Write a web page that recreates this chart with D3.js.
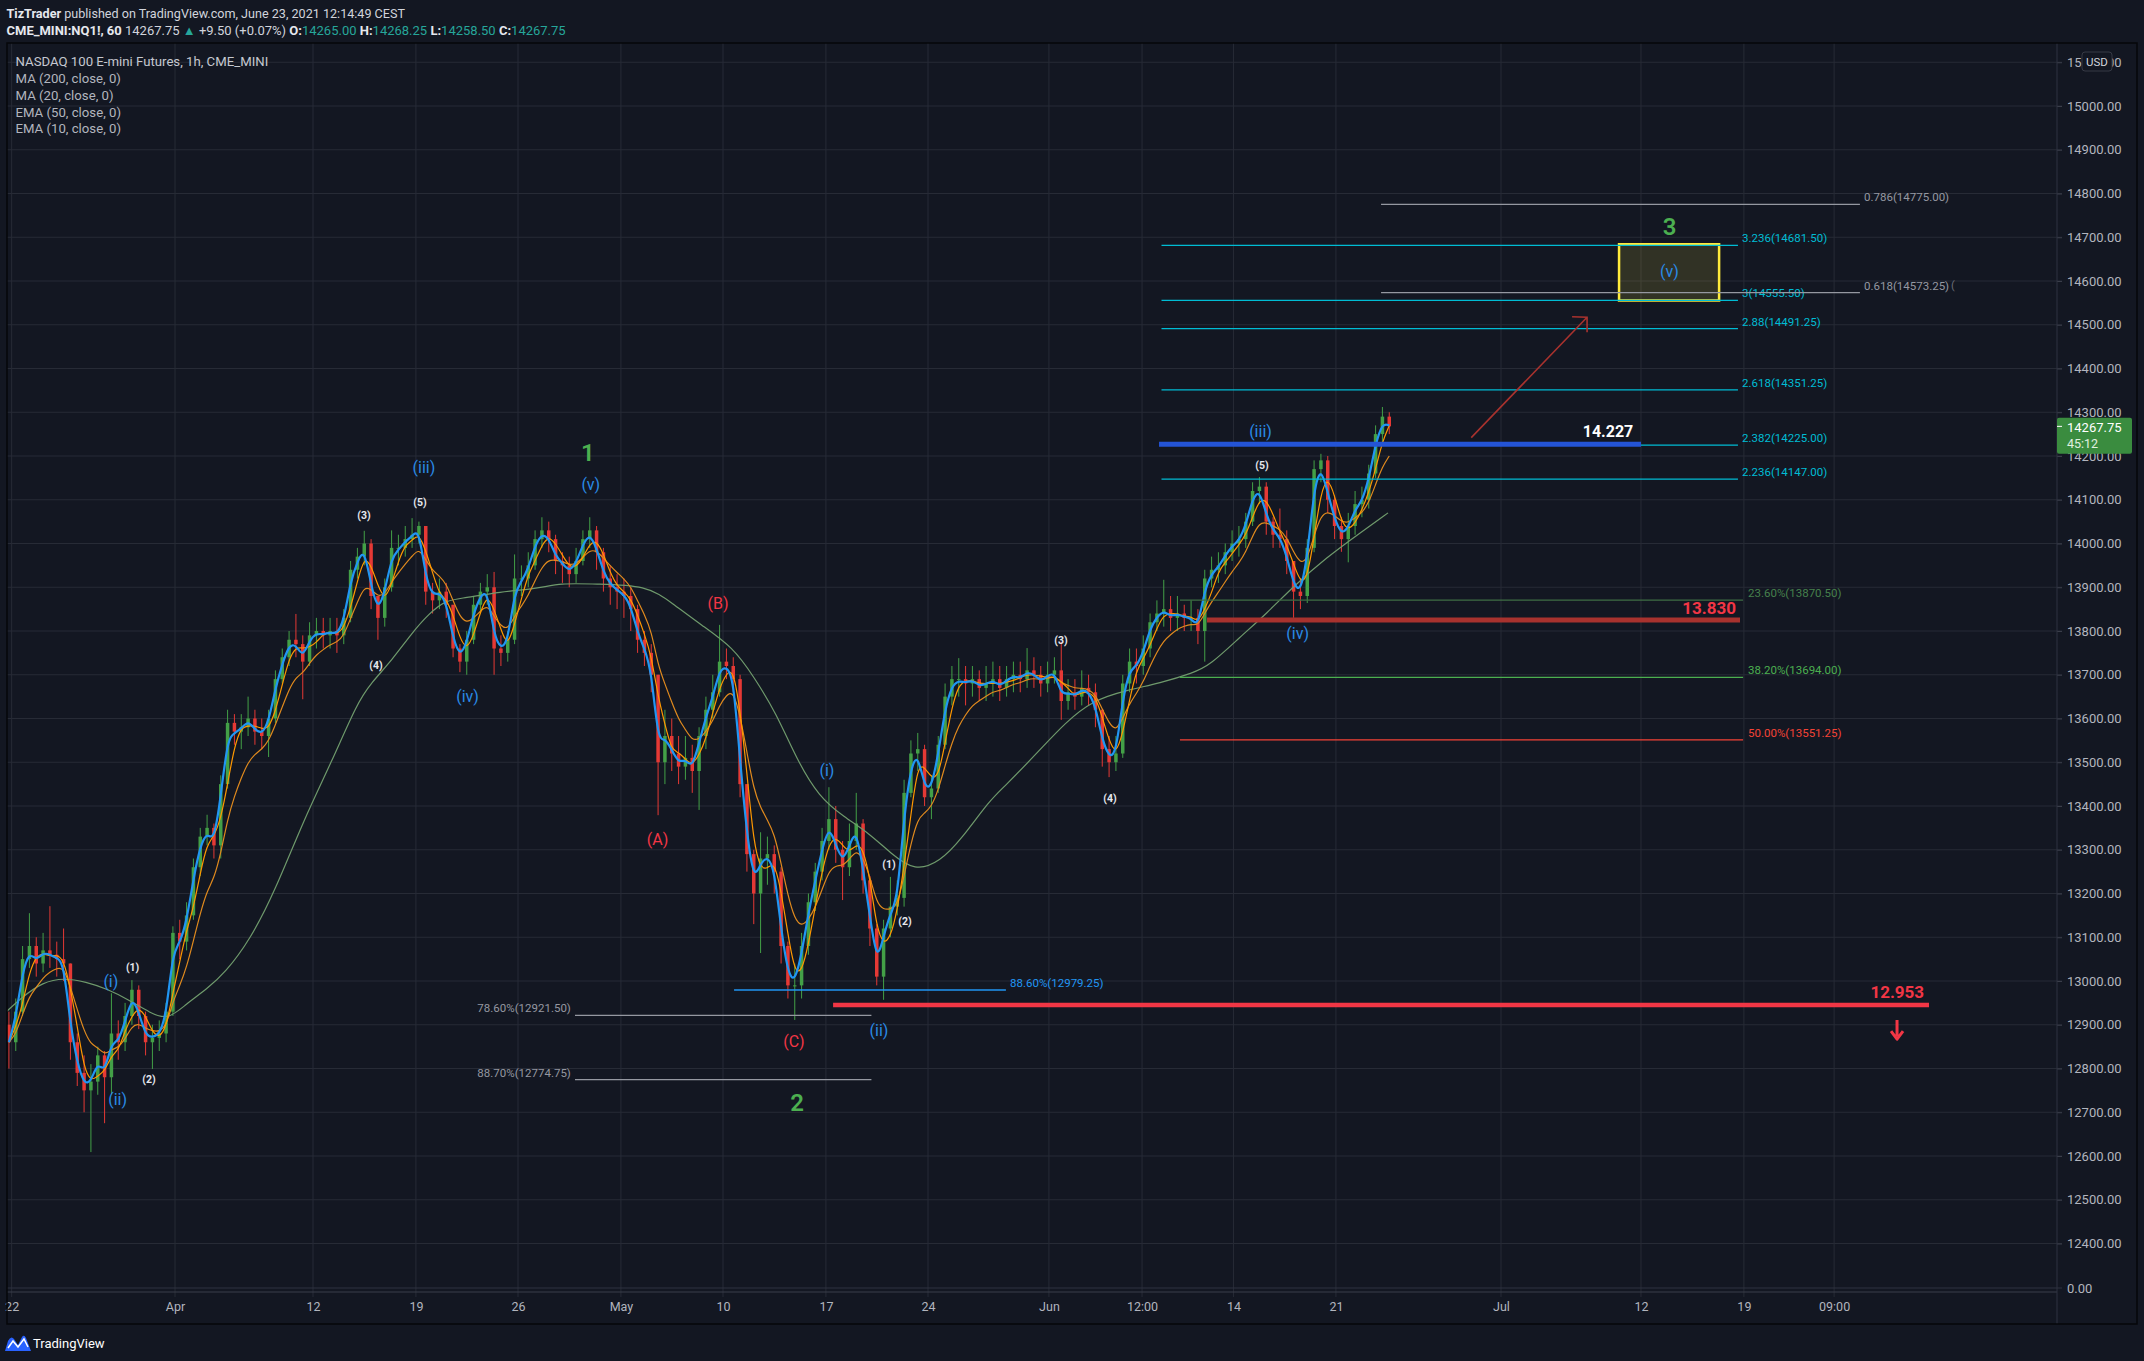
<!DOCTYPE html>
<html><head><meta charset="utf-8">
<script src="https://cdn.jsdelivr.net/npm/d3@7"></script>
<style>html,body{margin:0;padding:0;background:#131722;}svg{display:block;font-family:Roboto,"Noto Sans",sans-serif;}</style>
</head><body>
<svg id="c" width="2144" height="1361"></svg>
<script>
// ---------------- DATA ----------------
// one bar = 1/3 trading day, bar k centred on day (k+0.5)/3, day 0 = 22 Mar 2021
const firstOpen = 12900;
const closes = [12860,12930,13050,13080,13040,13070,13060,13050,13040,12860,
12790,12750,12770,12830,12780,12880,12860,12920,12980,12920,
12860,12870,12880,12930,13110,13090,13150,13260,13330,13350,
13310,13450,13590,13570,13580,13600,13570,13560,13600,13690,
13740,13780,13770,13730,13790,13800,13790,13800,13790,13830,
13940,13970,14000,13880,13830,13900,13990,13990,14010,14020,
14040,13890,13870,13890,13860,13760,13730,13780,13860,13890,
13900,13760,13750,13780,13920,13920,13950,14010,14030,14010,
13960,13950,13930,13960,14010,14030,13980,13920,13900,13890,
13880,13850,13780,13750,13700,13500,13560,13520,13490,13510,
13480,13560,13620,13660,13730,13720,13690,13450,13290,13200,
13280,13290,13250,13080,12990,12990,13080,13180,13250,13320,
13370,13300,13260,13320,13360,13230,13120,13010,13120,13170,
13190,13430,13520,13530,13420,13440,13540,13650,13690,13690,
13680,13690,13670,13680,13690,13670,13690,13700,13690,13710,
13700,13680,13700,13710,13640,13660,13650,13670,13660,13620,
13530,13500,13520,13680,13730,13720,13760,13820,13840,13850,
13830,13840,13830,13830,13800,13920,13940,13950,13980,14000,
14010,14050,14120,14130,14050,14020,14010,13960,13890,13880,
13990,14170,14190,14100,14040,14010,14040,14090,14100,14160,
14250,14290,14267.75];
const highs = [12930,12960,13080,13155,13100,13110,13171,13090,13120,13040,
12880,12830,12810,12850,12840,12972,12910,12950,13002,12990,
12930,12900,12910,12950,13125,13140,13180,13280,13350,13380,
13360,13470,13620,13610,13610,13650,13620,13600,13620,13710,
13760,13800,13839,13790,13820,13830,13830,13830,13830,13850,
13960,13990,14029,14010,13880,13920,14030,14020,14040,14058,
14050,14040,13910,13920,13910,13860,13770,13800,13880,13910,
13930,13935,13790,13800,13975,13950,13980,14030,14060,14050,
14020,13980,13970,13990,14030,14060,14040,13990,13950,13930,
13920,13900,13860,13800,13770,13700,13620,13600,13560,13560,
13540,13580,13650,13700,13814,13760,13740,13700,13450,13300,
13340,13330,13310,13260,13090,13040,13110,13200,13270,13350,
13443,13400,13320,13360,13430,13370,13240,13130,13140,13238,
13230,13460,13550,13567,13540,13470,13560,13680,13720,13738,
13720,13720,13710,13720,13730,13720,13720,13730,13730,13761,
13740,13720,13730,13740,13775,13690,13690,13710,13700,13680,
13620,13560,13560,13700,13760,13760,13790,13840,13870,13917,
13880,13880,13860,13870,13850,13940,13970,13980,14000,14030,
14040,14070,14140,14152,14140,14060,14080,14030,13960,13920,
14010,14190,14205,14200,14110,14060,14070,14120,14130,14180,
14270,14312,14300];
const lows = [12800,12840,12920,13030,13010,13020,13030,13010,13000,12820,
12760,12700,12609,12740,12675,12740,12820,12840,12900,12890,
12830,12799,12840,12860,12920,13050,13070,13140,13240,13310,
13280,13280,13440,13540,13530,13560,13540,13530,13512,13590,
13680,13720,13740,13644,13720,13760,13760,13760,13750,13770,
13820,13920,13950,13850,13780,13810,13890,13950,13970,13990,
14000,13860,13840,13850,13830,13740,13706,13700,13770,13840,
13860,13700,13720,13730,13770,13880,13900,13940,13990,13980,
13930,13910,13900,13910,13950,13990,13940,13890,13860,13850,
13830,13800,13750,13720,13660,13379,13450,13480,13450,13460,
13430,13391,13530,13600,13650,13690,13660,13420,13250,13130,
13064,13220,13200,13040,12960,12911,12960,13060,13160,13230,
13300,13270,13185,13240,13300,13200,13080,12990,12957,13100,
13150,13170,13420,13480,13400,13370,13430,13530,13630,13650,
13630,13650,13640,13640,13650,13640,13650,13660,13660,13670,
13670,13650,13660,13680,13597,13620,13620,13630,13630,13580,
13490,13466,13480,13510,13660,13680,13700,13740,13800,13810,
13800,13800,13800,13800,13770,13730,13900,13910,13930,13960,
13970,13990,14040,14090,14020,13990,13990,13930,13830,13850,
13864,13980,14140,14070,14010,13981,13957,14020,14060,14080,
14150,14230,14250];
// MA(200): trading day, value
const ma200Days = [0.07,0.76,1.83,2.85,3.93,4.95,6.02,7.05,7.93,8.8,9.83,10.7,11.93,13.15,14.56,15.93,17.15,17.83,18.9,19.78,20.66,21.49,22.37,24.12,25.88,27.1,28.71,31.29,32.51,33.93,35.49,36.51,37.59,38.61,39.68,40.9,42.12,43.15,44.37,45.59,46.61,48.02,48.71,50.46,51.68,53.05,54.71,56.32,57.93,58.76,60.22,61.54,62.8,64.46,66.07,67.44];
const ma200Vals = [12931,12961,12998,13007,12998,12982,12957,12927,12911,12947,12982,13018,13094,13206,13370,13503,13635,13681,13736,13793,13840,13871,13875,13890,13896,13910,13907,13905,13864,13814,13763,13695,13613,13505,13421,13375,13338,13293,13250,13273,13323,13414,13443,13528,13590,13642,13665,13681,13704,13722,13786,13841,13901,13969,14024,14070];
// axes
const priceTicks = d3.range(12400, 15101, 100);
const timeLabels = ["22","Apr","12","19","26","May","10","17","24","Jun","12:00","14","21","Jul","12","19","09:00"];
const timeDays = [0.3,8.27,15,20.02,25,30.02,35,40.02,45,50.9,55.44,59.9,64.9,72.95,79.78,84.8,89.2];
const lastPrice = 14267.75;
// fibonacci levels
const extLabels = ["3.236","3","2.88","2.618","2.382","2.236"];
const extPrices = [14681.5,14555.5,14491.25,14351.25,14225,14147];
const extSpan = [56.39,84.51];
const grayLabels = ["0.786","0.618"];
const grayPrices = [14775,14573.25];
const graySpan = [67.1,90.46];
const retLabels = ["23.60%","38.20%","50.00%"];
const retPrices = [13870.5,13694,13551.25];
const retSpan = [57.29,84.76];
const lowLabels = ["88.60%","78.60%","88.70%"];
const lowPrices = [12979.25,12921.5,12774.75];
const lowSpans = [[35.54,48.8],[27.78,42.24],[27.78,42.24]];
// key levels (label value, drawn price, day span)
const keyLabels = ["14.227","13.830","12.953"];
const keyPrices = [14227,13825,12945];
const keySpans = [[56.27,79.78],[58.61,84.61],[40.37,93.83]];
const keyLabelDays = [78.17,84.41,93.59];
// wave labels: text, day, price, group
const waveText = ["(iii)","(3)","(5)","(4)","(iv)","1","(v)","(B)","(A)","(i)","(1)","(2)","(C)","(ii)","2","(i)","(1)","(ii)","(2)","(3)","(4)","(iii)","(5)","(iv)","3","(v)"];
const waveDay = [20.41,17.49,20.22,18.07,22.54,28.41,28.55,34.76,31.81,40.07,43.1,43.88,38.46,42.61,38.61,5.14,6.2,5.47,7.0,51.49,53.88,61.22,61.29,63.03,81.17,81.17];
const wavePrice = [14173,14065,14093,13722,13651,14207,14134,13862,13323,13482,13267,13136,12861,12886,12721,12998,13030,12730,12776,13779,13417,14257,14179,13795,14723,14621];
const waveGroup = ["minor","sub","sub","sub","minor","major","minor","abc","abc","minor","sub","sub","abc","minor","major","minor","sub","minor","sub","sub","sub","minor","sub","minor","major","minor"];
const targetBox = {days:[78.71,83.59], prices:[14555.5,14684]};
const upArrow = {from:[71.5,14242], to:[77.15,14517]};
const downArrow = {day:92.27, prices:[12911,12867]};

// ---------------- DRAW ----------------
const W = 2144, H = 1361;
const L = 7, R = 2057, T = 43, B = 1297, PB = 1283;
const svg = d3.select("#c");
svg.append("rect").attr("width",W).attr("height",H).attr("fill","#131722");

const x = d3.scaleLinear().domain([0,100]).range([5.5,2055.5]);
const y = d3.scaleLinear().domain([12400,15100]).range([1243.5,62.25]);

svg.append("defs").append("clipPath").attr("id","pane")
  .append("rect").attr("x",L).attr("y",T).attr("width",R-L).attr("height",PB-T);

// grid
const grid = svg.append("g");
grid.selectAll("line.h").data(priceTicks).join("line")
  .attr("x1",L).attr("x2",R+5).attr("y1",d=>y(d)).attr("y2",d=>y(d))
  .attr("stroke","#272b36").attr("stroke-width",1);
grid.selectAll("line.v").data(timeDays).join("line")
  .attr("x1",d=>x(d)).attr("x2",d=>x(d)).attr("y1",T).attr("y2",B)
  .attr("stroke","#272b36").attr("stroke-width",1);
// bottom mini pane lines
grid.append("line").attr("x1",L).attr("x2",R+5).attr("y1",1288).attr("y2",1288).attr("stroke","#2f3340");
grid.append("line").attr("x1",L).attr("x2",R).attr("y1",1292).attr("y2",1292).attr("stroke","#3a3e4a");

const plot = svg.append("g").attr("clip-path","url(#pane)");

// candles
const bars = closes.map((c,k)=>{
  const o = k===0 ? firstOpen : closes[k-1];
  return {day:(k+0.5)/3, o, c, h:Math.max(highs[k],o,c), l:Math.min(lows[k],o,c)};
});
const up="#43a047", dn="#e53935";
const cg = plot.append("g");
cg.selectAll("line").data(bars).join("line")
  .attr("x1",d=>x(d.day)).attr("x2",d=>x(d.day)).attr("y1",d=>y(d.h)).attr("y2",d=>y(d.l))
  .attr("stroke",d=>d.c>=d.o?up:dn).attr("stroke-width",1);
cg.selectAll("rect").data(bars).join("rect")
  .attr("x",d=>x(d.day)-1.75).attr("width",3.5)
  .attr("y",d=>y(Math.max(d.o,d.c)))
  .attr("height",d=>Math.max(1,Math.abs(y(d.o)-y(d.c))))
  .attr("fill",d=>d.c>=d.o?up:dn);

// moving averages derived from the bars (hourly periods converted to bar units)
const hoursPerBar = 23/3;
function ema(period){
  const a = 1-Math.pow(1-2/(period+1), hoursPerBar);
  let v = closes[0]; return closes.map(c=> (v = v + a*(c-v)));
}
function sma(period){
  const n = Math.max(1,Math.round(period/hoursPerBar));
  return closes.map((c,i)=>{ const s=closes.slice(Math.max(0,i-n+1),i+1); return d3.mean(s); });
}
const line = d3.line().x(d=>x(d[0])).y(d=>y(d[1])).curve(d3.curveBasis);
const barDays = bars.map(b=>b.day);
plot.append("path").attr("d",line(d3.zip(ma200Days,ma200Vals)))
  .attr("fill","none").attr("stroke","#6f9a6c").attr("stroke-width",1.2);
plot.append("path").attr("d",line(d3.zip(barDays,ema(50))))
  .attr("fill","none").attr("stroke","#e08a1e").attr("stroke-width",1.2);
plot.append("path").attr("d",line(d3.zip(barDays,sma(20))))
  .attr("fill","none").attr("stroke","#ff9800").attr("stroke-width",1.2);
plot.append("path").attr("d",line(d3.zip(barDays,ema(10))))
  .attr("fill","none").attr("stroke","#2196f3").attr("stroke-width",2.2);

// ---- drawings ----
const dr = plot.append("g").style("font-family","Roboto, sans-serif");
function hline(g,d0,d1,p,col,w){ g.append("line").attr("x1",x(d0)).attr("x2",x(d1)).attr("y1",y(p)).attr("y2",y(p)).attr("stroke",col).attr("stroke-width",w); }
function lab(g,d,p,txt,col,size,anchor,dy,weight){ g.append("text").attr("x",x(d)).attr("y",y(p)+(dy||0)).attr("fill",col)
  .attr("font-size",size).attr("text-anchor",anchor||"start").attr("dominant-baseline","central").attr("font-weight",weight||400).text(txt); }

// yellow target box
dr.append("rect").attr("x",x(targetBox.days[0])).attr("width",x(targetBox.days[1])-x(targetBox.days[0]))
  .attr("y",y(targetBox.prices[1])).attr("height",y(targetBox.prices[0])-y(targetBox.prices[1]))
  .attr("fill","rgba(255,235,59,0.13)").attr("stroke","#ffeb3b").attr("stroke-width",2.5);

// extension levels (cyan)
extPrices.forEach((p,i)=>{ hline(dr,extSpan[0],extSpan[1],p,"#00bcd4",1.2);
  lab(dr,extSpan[1]+0.2,p,`${extLabels[i]}(${p.toFixed(2)})`,"#00bcd4",11.5,"start",-7); });
grayPrices.forEach((p,i)=>{ hline(dr,graySpan[0],graySpan[1],p,"#9598a1",1.2);
  lab(dr,graySpan[1]+0.2,p,`${grayLabels[i]}(${p.toFixed(2)})`,"#9598a1",11.5,"start",-7); });
lab(dr,94.9,grayPrices[1],"(","#6a6d78",11,"start",-7);
const retCols = ["#46804c","#4caf50","#f44336"];
const retLineCols = ["#3f6e45","#4caf50","#f44336"];
retPrices.forEach((p,i)=>{ hline(dr,retSpan[0],retSpan[1],p,retLineCols[i],1.3);
  lab(dr,retSpan[1]+0.24,p,`${retLabels[i]}(${p.toFixed(2)})`,retCols[i],11.5,"start",-7); });
// lower retracements
hline(dr,lowSpans[0][0],lowSpans[0][1],lowPrices[0],"#2196f3",1.5);
lab(dr,lowSpans[0][1]+0.2,lowPrices[0],`${lowLabels[0]}(${lowPrices[0].toFixed(2)})`,"#2196f3",11.5,"start",-7);
[1,2].forEach(i=>{ hline(dr,lowSpans[i][0],lowSpans[i][1],lowPrices[i],"#9598a1",1.3);
  lab(dr,lowSpans[i][0]-0.2,lowPrices[i],`${lowLabels[i]}(${lowPrices[i].toFixed(2)})`,"#9598a1",11.5,"end",-7); });

// key levels
const keyCols = ["#2454d6","#a8322e","#f23645"];
const keyW = [5,5,4.5];
keyPrices.forEach((p,i)=>hline(dr,keySpans[i][0],keySpans[i][1],p,keyCols[i],keyW[i]));
lab(dr,keyLabelDays[0],keyPrices[0],keyLabels[0],"#ffffff",16,"middle",-12.5,700);
lab(dr,keyLabelDays[1],keyPrices[1],keyLabels[1],"#f23645",17,"end",-12.5,700);
lab(dr,keyLabelDays[2],keyPrices[2],keyLabels[2],"#f23645",17,"end",-13,700);

// arrows
const ax0=x(upArrow.from[0]), ay0=y(upArrow.from[1]), ax1=x(upArrow.to[0]), ay1=y(upArrow.to[1]);
dr.append("path").attr("d",`M${ax0},${ay0}L${ax1},${ay1}M${ax1-15},${ay1-0.5}L${ax1},${ay1}L${ax1},${ay1+15}`)
  .attr("fill","none").attr("stroke","#a8322e").attr("stroke-width",1.6);
const dx=x(downArrow.day), dy0=y(downArrow.prices[0]), dy1=y(downArrow.prices[1]);
dr.append("path").attr("d",`M${dx},${dy0}L${dx},${dy1-3}M${dx-6},${dy1-8}L${dx},${dy1}L${dx+6},${dy1-8}`)
  .attr("fill","none").attr("stroke","#f23645").attr("stroke-width",3).attr("stroke-linejoin","round");

// wave labels
const groupStyle = {minor:["#2a8be6",16,400], sub:["#e6e8ee",10.5,700], major:["#4caf50",24,600], abc:["#f23645",16,400]};
waveText.forEach((t,i)=>{ const s=groupStyle[waveGroup[i]];
  lab(dr,waveDay[i],wavePrice[i],t,s[0],s[1],"middle",0,s[2]); });

// ---- legend / header ----
const leg = svg.append("g").attr("font-size",13.2).attr("fill","#b2b5be");
["NASDAQ 100 E-mini Futures, 1h, CME_MINI","MA (200, close, 0)","MA (20, close, 0)","EMA (50, close, 0)","EMA (10, close, 0)"]
 .forEach((t,i)=>leg.append("text").attr("x",15.5).attr("y",[61,78,95,112,128][i]).attr("dominant-baseline","central")
   .attr("fill",i===0?"#c5c8d0":"#b2b5be").text(t));

const h1 = svg.append("text").attr("x",6.5).attr("y",13).attr("dominant-baseline","central").attr("font-size",12.6).attr("fill","#d1d4dc");
h1.append("tspan").attr("font-weight",700).attr("fill","#e6e8ee").text("TizTrader");
h1.append("tspan").text(" published on TradingView.com, June 23, 2021 12:14:49 CEST");
const h2 = svg.append("text").attr("x",6.5).attr("y",30).attr("dominant-baseline","central").attr("font-size",13).attr("fill","#d1d4dc");
h2.append("tspan").attr("font-weight",700).attr("fill","#e6e8ee").text("CME_MINI:NQ1!, 60");
h2.append("tspan").text(" "+lastPrice.toFixed(2)+" ");
h2.append("tspan").attr("fill","#26a69a").text("▲");
h2.append("tspan").text(" +9.50 (+0.07%) ");
[["O:","14265.00"],["H:","14268.25"],["L:","14258.50"],["C:","14267.75"]].forEach((p,i)=>{
  h2.append("tspan").attr("font-weight",700).attr("fill","#e6e8ee").text((i?" ":"")+p[0]);
  h2.append("tspan").attr("fill","#26a69a").text(p[1]);
});

// ---- axes ----
const yAxis = svg.append("g").attr("transform",`translate(${R},0)`)
  .call(d3.axisRight(y).tickValues(priceTicks).tickFormat(d3.format(".2f")).tickSize(5).tickPadding(5));
yAxis.select(".domain").remove();
yAxis.selectAll("line").attr("stroke","#3a3e4a");
yAxis.selectAll("text").attr("fill","#b2b5be").attr("font-size",13).attr("font-family","Roboto, sans-serif");
svg.append("text").attr("x",R+10).attr("y",1288).attr("dominant-baseline","central").attr("fill","#b2b5be").attr("font-size",13).text("0.00");

const xAxis = svg.append("g").attr("transform",`translate(0,${B})`)
  .call(d3.axisBottom(x).tickValues(timeDays).tickFormat((d,i)=>timeLabels[i]).tickSize(0).tickPadding(5));
xAxis.select(".domain").remove();
xAxis.selectAll("text").attr("fill","#b2b5be").attr("font-size",12.5).attr("font-family","Roboto, sans-serif");

// separators and borders
svg.append("line").attr("x1",R).attr("x2",R).attr("y1",T).attr("y2",1324).attr("stroke","#2f3340");
svg.append("rect").attr("x",L).attr("y",T).attr("width",2137-L).attr("height",1324-T)
  .attr("fill","none").attr("stroke","#06070a").attr("stroke-width",1.5);

// USD box (sits over the top price label, as in TradingView)
svg.append("rect").attr("x",2082).attr("y",52).attr("width",30).attr("height",19).attr("rx",3)
  .attr("fill","#131722").attr("stroke","#363a45");
svg.append("text").attr("x",2097).attr("y",61.5).attr("text-anchor","middle").attr("dominant-baseline","central")
  .attr("fill","#d1d4dc").attr("font-size",11.5).text("USD");

// last price tag
const ly = y(lastPrice);
svg.append("rect").attr("x",R).attr("y",ly-8.5).attr("width",75).attr("height",36).attr("rx",2).attr("fill","#3a8c3f");
svg.append("line").attr("x1",R).attr("x2",R+5).attr("y1",ly).attr("y2",ly).attr("stroke","#ffffff");
svg.append("text").attr("x",R+10).attr("y",ly+1).attr("dominant-baseline","central").attr("fill","#ffffff").attr("font-size",13).text(lastPrice.toFixed(2));
svg.append("text").attr("x",R+10).attr("y",ly+17).attr("dominant-baseline","central").attr("fill","#e0f0e0").attr("font-size",12.5).text("45:12");

// TradingView logo
const lg = svg.append("g").attr("transform","translate(5,1335)");
lg.append("path").attr("d","M0,16 L3,6 Q6,0 9,4 L13,10 L17,2 Q19,-1 21,3 L26,16 Z").attr("fill","#2962ff");
lg.append("path").attr("d","M3,13 L8,6 L13,12 L19,4 L23,12").attr("fill","none").attr("stroke","#ffffff").attr("stroke-width",1.5);
svg.append("text").attr("x",33).attr("y",1343).attr("dominant-baseline","central").attr("fill","#ffffff").attr("font-size",13).text("TradingView");
</script>
</body></html>
